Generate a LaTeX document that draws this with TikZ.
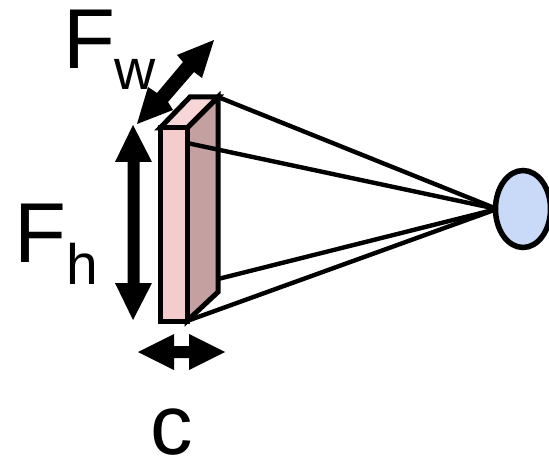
\documentclass[tikz,border=0pt]{standalone}
\usepackage{fontspec}
\setmainfont{Liberation Sans}
\definecolor{sideface}{RGB}{196,160,160}
\definecolor{topface}{RGB}{246,214,214}
\definecolor{frontface}{RGB}{244,204,204}
\definecolor{eyefill}{RGB}{201,218,248}
\tikzset{
  x=1pt,y=-1pt,
  boxline/.style={draw=black,line width=5pt,line join=miter},
  ray/.style={draw=black,line width=4.4pt},
  bigarrow/.style={fill=black,draw=none},
  biglabel/.style={inner sep=0pt,anchor=base west,font=\fontsize{85}{85}\selectfont},
  sublabel/.style={inner sep=0pt,anchor=base west,font=\fontsize{57}{57}\selectfont},
}
\begin{document}
\begin{tikzpicture}
\useasboundingbox (0,0) rectangle (549,457);
% slab
\draw[boxline,fill=sideface] (187,128) -- (218,97) -- (218,292) -- (187,321) -- cycle;
\draw[boxline,fill=topface] (160,128) -- (190,97) -- (218,97) -- (187,128) -- cycle;
\draw[boxline,fill=frontface] (160,128) rectangle (187,321);
% rays
\coordinate (eye) at (497,209);
\draw[ray] (218,97) -- (eye);
\draw[ray] (187,143) -- (eye);
\draw[ray] (218,279) -- (eye);
\draw[ray] (187,321) -- (eye);
% eye
\draw[fill=eyefill,draw=black,line width=5.5pt] (523,209) ellipse [x radius=27.5,y radius=38.5];
% arrows
\fill[bigarrow] (133,125) -- (152,162) -- (139.5,162) -- (139.5,283) -- (152,283) -- (133,320) -- (115,283) -- (127.5,283) -- (127.5,162) -- (115,162) -- cycle;
\fill[bigarrow] (138,352) -- (174,334) -- (174,346) -- (189,346) -- (189,334) -- (225,352) -- (189,370) -- (189,358) -- (174,358) -- (174,370) -- cycle;
\fill[bigarrow] (214,40) -- (202,78) -- (194,72) -- (168,102) -- (173,110) -- (137,124) -- (148,87) -- (157,93) -- (183,62) -- (177,55) -- cycle;
% labels
\node[biglabel] (fw) at (63,69) {F};
\node[sublabel] (w) at (114.5,90) {w};
\node[biglabel] (fh) at (14,262) {F};
\node[sublabel] (h) at (66,284) {h};
\node[biglabel] (c) at (150,454) {c};
\end{tikzpicture}
\end{document}
